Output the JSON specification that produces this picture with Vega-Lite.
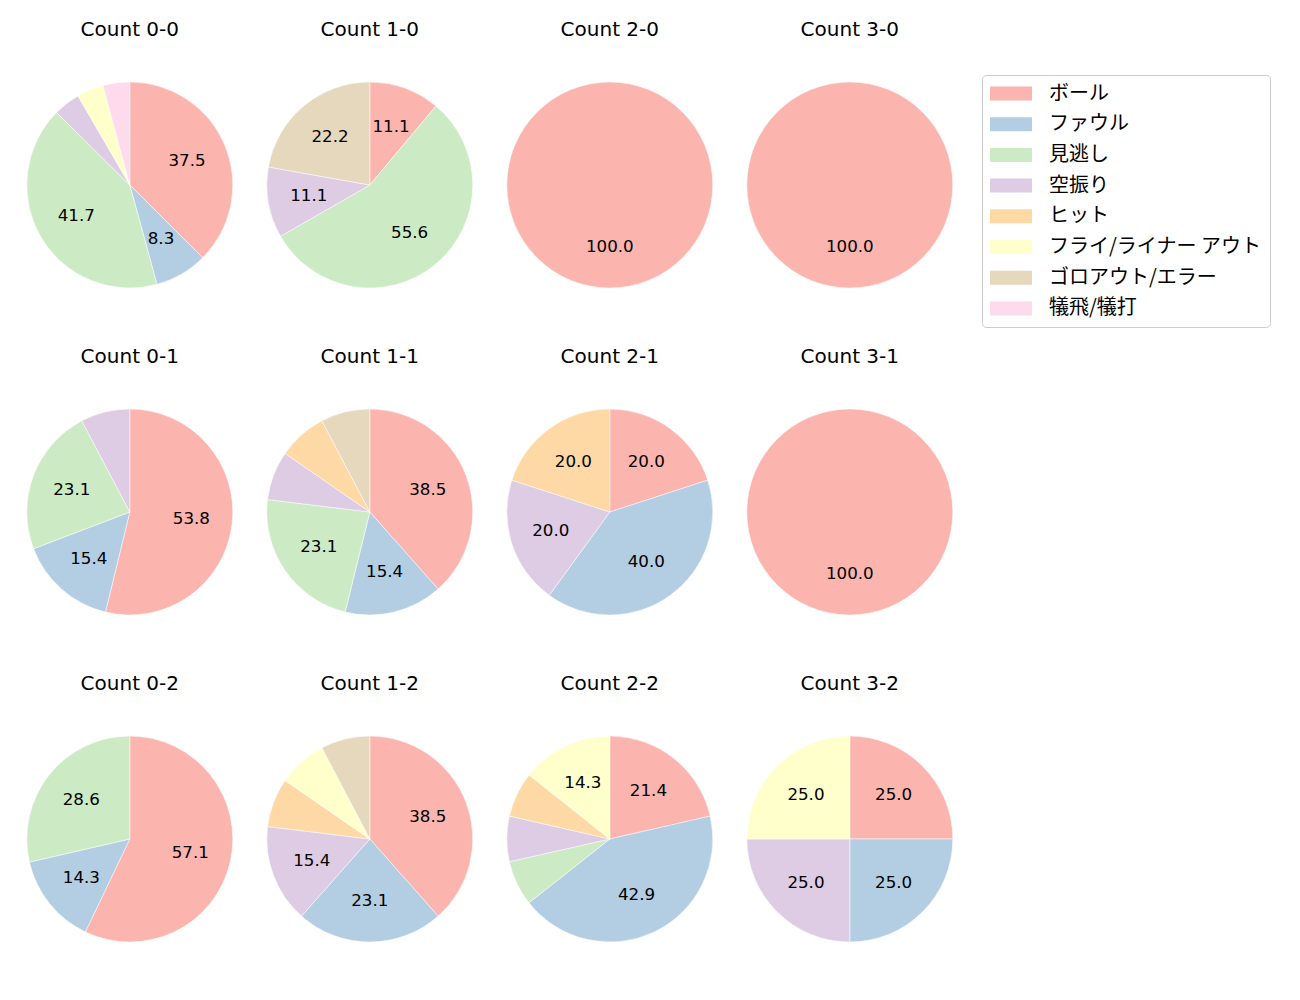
{
  "$schema": "https://vega.github.io/schema/vega-lite/v6.json",
  "padding": {"left": 10, "top": 20, "right": 0, "bottom": 0},
  "background": "white",
  "config": {"view": {"stroke": null}, "font": "DejaVu Sans"},
  "data": {"values": [
    {"count": "Count 0-0", "type": "ボール", "k": 0, "pct": 37.5},
    {"count": "Count 0-0", "type": "ファウル", "k": 1, "pct": 8.3},
    {"count": "Count 0-0", "type": "見逃し", "k": 2, "pct": 41.7},
    {"count": "Count 0-0", "type": "空振り", "k": 3, "pct": 4.2},
    {"count": "Count 0-0", "type": "フライ/ライナー アウト", "k": 5, "pct": 4.2},
    {"count": "Count 0-0", "type": "犠飛/犠打", "k": 7, "pct": 4.2},
    {"count": "Count 1-0", "type": "ボール", "k": 0, "pct": 11.1},
    {"count": "Count 1-0", "type": "見逃し", "k": 2, "pct": 55.6},
    {"count": "Count 1-0", "type": "空振り", "k": 3, "pct": 11.1},
    {"count": "Count 1-0", "type": "ゴロアウト/エラー", "k": 6, "pct": 22.2},
    {"count": "Count 2-0", "type": "ボール", "k": 0, "pct": 100.0},
    {"count": "Count 3-0", "type": "ボール", "k": 0, "pct": 100.0},
    {"count": "Count 0-1", "type": "ボール", "k": 0, "pct": 53.8},
    {"count": "Count 0-1", "type": "ファウル", "k": 1, "pct": 15.4},
    {"count": "Count 0-1", "type": "見逃し", "k": 2, "pct": 23.1},
    {"count": "Count 0-1", "type": "空振り", "k": 3, "pct": 7.7},
    {"count": "Count 1-1", "type": "ボール", "k": 0, "pct": 38.5},
    {"count": "Count 1-1", "type": "ファウル", "k": 1, "pct": 15.4},
    {"count": "Count 1-1", "type": "見逃し", "k": 2, "pct": 23.1},
    {"count": "Count 1-1", "type": "空振り", "k": 3, "pct": 7.7},
    {"count": "Count 1-1", "type": "ヒット", "k": 4, "pct": 7.7},
    {"count": "Count 1-1", "type": "ゴロアウト/エラー", "k": 6, "pct": 7.7},
    {"count": "Count 2-1", "type": "ボール", "k": 0, "pct": 20.0},
    {"count": "Count 2-1", "type": "ファウル", "k": 1, "pct": 40.0},
    {"count": "Count 2-1", "type": "空振り", "k": 3, "pct": 20.0},
    {"count": "Count 2-1", "type": "ヒット", "k": 4, "pct": 20.0},
    {"count": "Count 3-1", "type": "ボール", "k": 0, "pct": 100.0},
    {"count": "Count 0-2", "type": "ボール", "k": 0, "pct": 57.1},
    {"count": "Count 0-2", "type": "ファウル", "k": 1, "pct": 14.3},
    {"count": "Count 0-2", "type": "見逃し", "k": 2, "pct": 28.6},
    {"count": "Count 1-2", "type": "ボール", "k": 0, "pct": 38.5},
    {"count": "Count 1-2", "type": "ファウル", "k": 1, "pct": 23.1},
    {"count": "Count 1-2", "type": "空振り", "k": 3, "pct": 15.4},
    {"count": "Count 1-2", "type": "ヒット", "k": 4, "pct": 7.7},
    {"count": "Count 1-2", "type": "フライ/ライナー アウト", "k": 5, "pct": 7.7},
    {"count": "Count 1-2", "type": "ゴロアウト/エラー", "k": 6, "pct": 7.7},
    {"count": "Count 2-2", "type": "ボール", "k": 0, "pct": 21.4},
    {"count": "Count 2-2", "type": "ファウル", "k": 1, "pct": 42.9},
    {"count": "Count 2-2", "type": "見逃し", "k": 2, "pct": 7.1},
    {"count": "Count 2-2", "type": "空振り", "k": 3, "pct": 7.1},
    {"count": "Count 2-2", "type": "ヒット", "k": 4, "pct": 7.1},
    {"count": "Count 2-2", "type": "フライ/ライナー アウト", "k": 5, "pct": 14.3},
    {"count": "Count 3-2", "type": "ボール", "k": 0, "pct": 25.0},
    {"count": "Count 3-2", "type": "ファウル", "k": 1, "pct": 25.0},
    {"count": "Count 3-2", "type": "空振り", "k": 3, "pct": 25.0},
    {"count": "Count 3-2", "type": "フライ/ライナー アウト", "k": 5, "pct": 25.0}
  ]},
  "facet": {
    "field": "count", "type": "nominal",
    "sort": ["Count 0-0", "Count 1-0", "Count 2-0", "Count 3-0", "Count 0-1", "Count 1-1", "Count 2-1", "Count 3-1", "Count 0-2", "Count 1-2", "Count 2-2", "Count 3-2"],
    "header": {"title": null, "labelFontSize": 20, "labelFont": "DejaVu Sans", "labelColor": "black", "labelPadding": 25, "labelLimit": 300}
  },
  "columns": 4,
  "spacing": {"row": 42, "column": 0},
  "spec": {
    "width": 239.6,
    "height": 240,
    "encoding": {
      "theta": {"field": "pct", "type": "quantitative", "stack": true},
      "order": {"field": "k", "type": "quantitative"}
    },
    "layer": [
      {
        "mark": {"type": "arc", "radius": 103, "stroke": "white", "strokeWidth": 0.5},
        "encoding": {
          "color": {
            "field": "type", "type": "nominal",
            "scale": {
              "domain": ["ボール", "ファウル", "見逃し", "空振り", "ヒット", "フライ/ライナー アウト", "ゴロアウト/エラー", "犠飛/犠打"],
              "range": ["#fbb4ae", "#b3cde3", "#ccebc5", "#decbe4", "#fed9a6", "#ffffcc", "#e5d8bd", "#fddaec"]
            },
            "legend": {
              "title": null,
              "orient": "none",
              "legendX": 972,
              "legendY": 10,
              "strokeColor": "#cccccc",
              "cornerRadius": 4,
              "padding": 8,
              "fillColor": "white",
              "labelFont": "Noto Sans CJK JP",
              "labelFontSize": 20,
              "labelColor": "black",
              "labelLimit": 400,
              "symbolType": "M-1,-0.667H3V0.667H-1Z",
              "symbolSize": 441,
              "symbolStrokeWidth": 0,
              "symbolOpacity": 1,
              "labelOffset": 38,
              "rowPadding": 9.7
            }
          }
        }
      },
      {
        "mark": {"type": "text", "radius": 62, "fontSize": 16.7, "font": "DejaVu Sans", "color": "black"},
        "encoding": {
          "text": {
            "condition": {"test": "datum.pct < 8", "value": ""},
            "field": "pct", "type": "quantitative", "format": ".1f"
          }
        }
      }
    ]
  }
}
